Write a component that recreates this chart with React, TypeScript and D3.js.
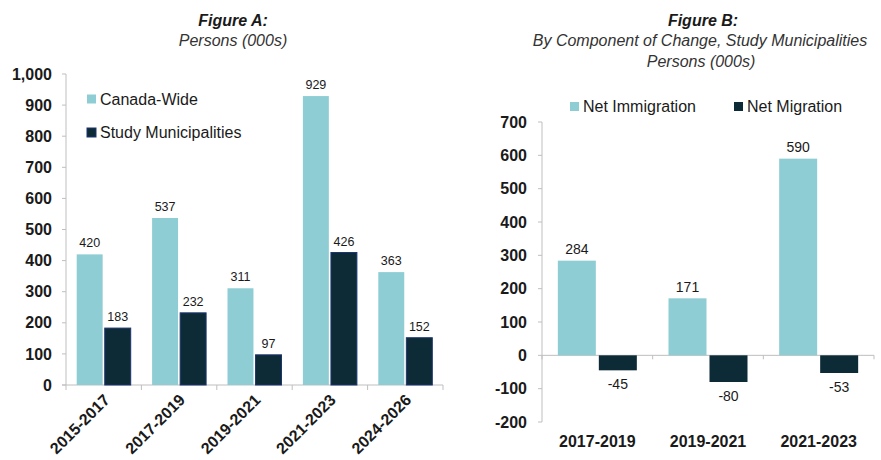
import React from "react";
import * as d3 from "d3";

const catsA = ["2015-2017", "2017-2019", "2019-2021", "2021-2023", "2024-2026"];
const canadaWide = [420, 537, 311, 929, 363];
const studyMunis = [183, 232, 97, 426, 152];
const ticksA = [0, 100, 200, 300, 400, 500, 600, 700, 800, 900, 1000];

const catsB = ["2017-2019", "2019-2021", "2021-2023"];
const netImmigration = [284, 171, 590];
const netMigration = [-45, -80, -53];
const ticksB = [-200, -100, 0, 100, 200, 300, 400, 500, 600, 700];

const LIGHT = "#8ecdd4";
const DARK = "#0c2b36";
const DARK_STROKE = "#1d3570";
const AXIS = "#bfbfbf";
const TXT = "#1a1a1a";
const FONT = "'Liberation Sans', Arial, sans-serif";

export default function App() {
  // Figure A
  const yA = d3.scaleLinear().domain([0, 1000]).range([385, 74]);
  const xA = d3.scaleBand().domain(catsA).range([66, 443]).padding(0);
  const fmtA = d3.format(",");
  const serA = ["cw", "sm"];
  const x1A = d3.scaleBand().domain(serA).range([-27, 27]).paddingInner(0.075);

  // Figure B
  const yB = d3.scaleLinear().domain([-200, 700]).range([422, 122]);
  const xB = d3.scaleBand().domain(catsB).range([542, 874]).padding(0);
  const serB = ["ni", "nm"];
  const x1B = d3.scaleBand().domain(serB).range([-39.5, 39.5]).paddingInner(0.073);

  const boundsA = [...catsA.map((c) => xA(c) as number), 443];
  const boundsB = [...catsB.map((c) => xB(c) as number), 874];

  return (
    <svg
      width={881}
      height={460}
      style={{ position: "absolute", left: 0, top: 0, background: "#fff", fontFamily: FONT }}
    >
      {/* ---------- Figure A ---------- */}
      <text x={233} y={26} textAnchor="middle" fontSize={16} fontWeight="bold" fontStyle="italic" fill={TXT}>
        Figure A:
      </text>
      <text x={233} y={46} textAnchor="middle" fontSize={16} fontStyle="italic" fill="#333">
        Persons (000s)
      </text>

      {/* y axis */}
      <line x1={66} x2={66} y1={yA(1000)} y2={yA(0)} stroke={AXIS} />
      {ticksA.map((t) => (
        <g key={"ta" + t}>
          <line x1={62} x2={66} y1={yA(t)} y2={yA(t)} stroke={AXIS} />
          <text x={52} y={yA(t)} dy="0.35em" textAnchor="end" fontSize={16} fontWeight="bold" fill={TXT}>
            {fmtA(t)}
          </text>
        </g>
      ))}
      {/* x axis */}
      <line x1={62} x2={443} y1={yA(0)} y2={yA(0)} stroke={AXIS} />
      {boundsA.map((b, i) => (
        <line key={"ba" + i} x1={b} x2={b} y1={yA(0)} y2={yA(0) + 5} stroke={AXIS} />
      ))}

      {catsA.map((c, i) => {
        const cx = (xA(c) as number) + xA.bandwidth() / 2;
        const vals = [canadaWide[i], studyMunis[i]];
        return (
          <g key={c}>
            {serA.map((s, j) => {
              const x = cx + (x1A(s) as number);
              const v = vals[j];
              return (
                <g key={s}>
                  <rect
                    x={x}
                    y={yA(v)}
                    width={x1A.bandwidth()}
                    height={yA(0) - yA(v)}
                    fill={j === 0 ? LIGHT : DARK}
                    stroke={j === 0 ? "none" : DARK_STROKE}
                    strokeWidth={j === 0 ? 0 : 1}
                  />
                  <text
                    x={x + x1A.bandwidth() / 2}
                    y={yA(v) - 7}
                    textAnchor="middle"
                    fontSize={12.5}
                    fill={TXT}
                  >
                    {v}
                  </text>
                </g>
              );
            })}
            <text
              transform={`translate(${cx + 7},${401}) rotate(-45)`}
              textAnchor="end"
              fontSize={16}
              fontWeight="bold"
              fill={TXT}
            >
              {c}
            </text>
          </g>
        );
      })}

      {/* legend A */}
      <rect x={87} y={94.5} width={9} height={9} fill={LIGHT} />
      <text x={100} y={99} dy="0.35em" fontSize={16} fill={TXT}>Canada-Wide</text>
      <rect x={87} y={128} width={9} height={9} fill={DARK} stroke={DARK_STROKE} />
      <text x={100} y={132.5} dy="0.35em" fontSize={16} fill={TXT}>Study Municipalities</text>

      {/* ---------- Figure B ---------- */}
      <text x={703} y={26} textAnchor="middle" fontSize={16} fontWeight="bold" fontStyle="italic" fill={TXT}>
        Figure B:
      </text>
      <text x={700} y={46} textAnchor="middle" fontSize={16} fontStyle="italic" fill="#333">
        By Component of Change, Study Municipalities
      </text>
      <text x={701} y={67} textAnchor="middle" fontSize={16} fontStyle="italic" fill="#333">
        Persons (000s)
      </text>

      <line x1={542} x2={542} y1={yB(700)} y2={yB(-200)} stroke={AXIS} />
      {ticksB.map((t) => (
        <g key={"tb" + t}>
          <line x1={538} x2={542} y1={yB(t)} y2={yB(t)} stroke={AXIS} />
          <text x={527} y={yB(t)} dy="0.35em" textAnchor="end" fontSize={16} fontWeight="bold" fill={TXT}>
            {t}
          </text>
        </g>
      ))}
      <line x1={542} x2={874} y1={yB(0)} y2={yB(0)} stroke={AXIS} />
      {boundsB.map((b, i) => (
        <line key={"bb" + i} x1={b} x2={b} y1={yB(0)} y2={yB(0) + 4} stroke={AXIS} />
      ))}

      {catsB.map((c, i) => {
        const cx = (xB(c) as number) + xB.bandwidth() / 2;
        const vals = [netImmigration[i], netMigration[i]];
        return (
          <g key={c}>
            {serB.map((s, j) => {
              const x = cx + (x1B(s) as number);
              const v = vals[j];
              const top = Math.min(yB(v), yB(0));
              const h = Math.abs(yB(v) - yB(0));
              return (
                <g key={s}>
                  <rect x={x} y={top} width={x1B.bandwidth()} height={h} fill={j === 0 ? LIGHT : DARK} />
                  <text
                    x={x + x1B.bandwidth() / 2}
                    y={v >= 0 ? yB(v) - 6.5 : yB(v) + 19}
                    textAnchor="middle"
                    fontSize={14}
                    fill={TXT}
                  >
                    {v}
                  </text>
                </g>
              );
            })}
            <text x={cx} y={447} textAnchor="middle" fontSize={16} fontWeight="bold" fill={TXT}>
              {c}
            </text>
          </g>
        );
      })}

      {/* legend B */}
      <rect x={570} y={102} width={9} height={9} fill={LIGHT} />
      <text x={583} y={106.5} dy="0.35em" fontSize={16} fill={TXT}>Net Immigration</text>
      <rect x={734} y={102} width={9} height={9} fill={DARK} />
      <text x={747} y={106.5} dy="0.35em" fontSize={16} fill={TXT}>Net Migration</text>
    </svg>
  );
}
